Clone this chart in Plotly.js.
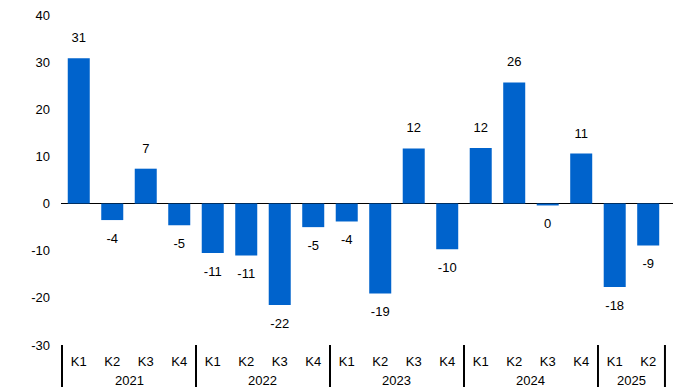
<!DOCTYPE html>
<html><head><meta charset="utf-8">
<script src="https://cdn.plot.ly/plotly-3.0.1.min.js"></script>
<style>html,body{margin:0;padding:0;background:#fff;}#chart{width:675px;height:387px;}</style>
</head><body><div id="chart"></div>
<script>
const years = ["2021","2021","2021","2021","2022","2022","2022","2022","2023","2023","2023","2023","2024","2024","2024","2024","2025","2025"];
const quarters = ["K1","K2","K3","K4","K1","K2","K3","K4","K1","K2","K3","K4","K1","K2","K3","K4","K1","K2"];
const values = [30.8,-3.5,7.4,-4.6,-10.5,-11.0,-21.5,-5.0,-3.8,-19.1,11.7,-9.7,11.8,25.7,-0.4,10.6,-17.7,-8.9];
const labels = ["31","-4","7","-5","-11","-11","-22","-5","-4","-19","12","-10","12","26","0","11","-18","-9"];
const yTickVals = [-30,-20,-10,0,10,20,30,40];
const yTickText = ["-30","-20","-10","0","10","20","30","40"];

const idx = values.map((_, i) => i);
const labelOffset = 4.1;
const labelY = values.map(v => v >= 0 ? v + labelOffset : v - labelOffset);
const font = {family: "Liberation Sans, Arial, sans-serif", size: 13, color: "#000"};

// year groups
const groups = [];
years.forEach((y, i) => {
  if (!groups.length || groups[groups.length - 1].year !== y) groups.push({year: y, start: i, end: i});
  else groups[groups.length - 1].end = i;
});
const annotations = groups.map(g => ({
  x: (g.start + g.end) / 2, xref: "x", y: 0, yref: "paper", yanchor: "middle", yshift: -35,
  text: g.year, showarrow: false, font: font
}));
const boundaries = [groups[0].start - 0.5].concat(groups.map(g => g.end + 0.5));
const shapes = boundaries.map(b => ({
  type: "line", xref: "x", yref: "paper", x0: b, x1: b, ysizemode: "pixel", yanchor: 0,
  y0: 0, y1: -45, line: {color: "#000", width: 2}
}));

const data = [
  {type: "bar", x: idx, y: values, marker: {color: "#0063CC"}, hoverinfo: "skip"},
  {type: "scatter", mode: "text", x: idx, y: labelY, text: labels,
   textposition: "middle center", textfont: font, hoverinfo: "skip", cliponaxis: false}
];
const layout = {
  width: 675, height: 387,
  margin: {l: 61, r: 2, t: 15, b: 42},
  paper_bgcolor: "#fff", plot_bgcolor: "#fff",
  showlegend: false, bargap: 0.343,
  font: font,
  annotations: annotations,
  shapes: shapes,
  xaxis: {range: [-0.53, 17.74], autorange: false, tickvals: idx, ticktext: quarters,
          showgrid: false, zeroline: false, showline: false,
          ticks: "", tickfont: font, ticklabelstandoff: 7},
  yaxis: {range: [-30, 40], autorange: false, tickvals: yTickVals, ticktext: yTickText, showgrid: false,
          zeroline: true, zerolinecolor: "#000", zerolinewidth: 1, showline: false,
          ticks: "", tickfont: font, ticklabelstandoff: 10}
};
Plotly.newPlot("chart", data, layout, {displayModeBar: false, staticPlot: true});
</script></body></html>
